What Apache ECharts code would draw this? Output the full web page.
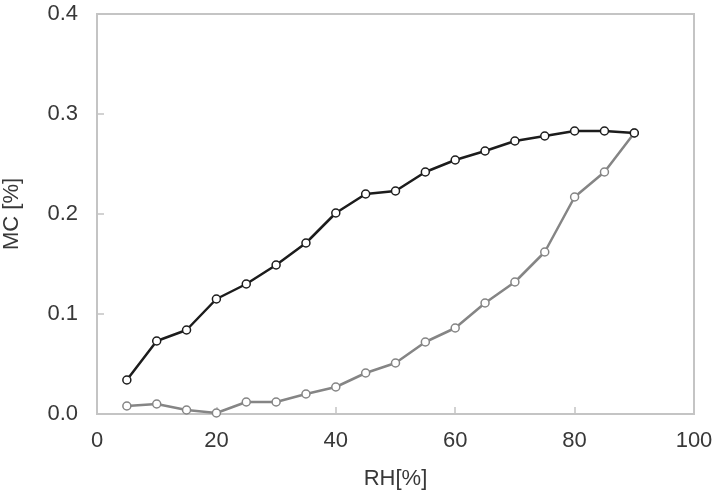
<!DOCTYPE html>
<html>
<head>
<meta charset="utf-8">
<script src="https://cdn.jsdelivr.net/npm/echarts@6/dist/echarts.min.js"></script>
<style>
  html, body { margin: 0; padding: 0; background: #fff; }
  #chart { width: 716px; height: 492px; }
</style>
</head>
<body>
<div id="chart"></div>
<script>
// RH steps (%)
var rhAdsorption = [5, 10, 15, 20, 25, 30, 35, 40, 45, 50, 55, 60, 65, 70, 75, 80, 85, 90];
var mcAdsorption = [0.034, 0.073, 0.084, 0.115, 0.130, 0.149, 0.171, 0.201, 0.220, 0.223,
                    0.242, 0.254, 0.263, 0.273, 0.278, 0.283, 0.283, 0.281];

var rhDesorption = [90, 85, 80, 75, 70, 65, 60, 55, 50, 45, 40, 35, 30, 25, 20, 15, 10, 5];
var mcDesorption = [0.281, 0.242, 0.217, 0.162, 0.132, 0.111, 0.086, 0.072, 0.051, 0.041,
                    0.027, 0.020, 0.012, 0.012, 0.001, 0.004, 0.010, 0.008];

function pairs(xs, ys) {
    var out = [];
    for (var i = 0; i < xs.length; i++) {
        out.push([xs[i], ys[i]]);
    }
    return out;
}

var chart = echarts.init(document.getElementById('chart'));

var labelStyle = { color: '#383838', fontSize: 22, fontFamily: 'Liberation Sans, Arial, sans-serif' };
var axisGray = '#c4c4c4';

chart.setOption({
    animation: false,
    grid: {
        left: 97, right: 22, top: 14, bottom: 78,
        outerBoundsMode: 'none',
        containLabel: false,
        show: true,
        borderColor: axisGray,
        borderWidth: 2
    },
    xAxis: {
        type: 'value',
        min: 0, max: 100, interval: 20,
        name: 'RH[%]',
        nameLocation: 'middle',
        nameGap: 54,
        nameTextStyle: labelStyle,
        axisLine: { show: true, lineStyle: { color: axisGray, width: 2 } },
        axisTick: { show: true, inside: true, length: 7, lineStyle: { color: axisGray, width: 1.5 } },
        axisLabel: Object.assign({ margin: 16 }, labelStyle),
        splitLine: { show: false }
    },
    yAxis: {
        type: 'value',
        min: 0, max: 0.4, interval: 0.1,
        name: 'MC [%]',
        nameLocation: 'middle',
        nameGap: 74,
        nameTextStyle: labelStyle,
        axisLine: { show: true, lineStyle: { color: axisGray, width: 2 } },
        axisTick: { show: true, inside: true, length: 7, lineStyle: { color: axisGray, width: 1.5 } },
        axisLabel: Object.assign({
            margin: 19,
            formatter: function (v) { return v.toFixed(1); }
        }, labelStyle),
        splitLine: { show: false }
    },
    series: [
        {
            name: 'adsorption',
            type: 'line',
            data: pairs(rhAdsorption, mcAdsorption),
            symbol: 'circle',
            symbolSize: 8,
            lineStyle: { color: '#1c1c1c', width: 2.5 },
            itemStyle: { color: '#ffffff', borderColor: '#1c1c1c', borderWidth: 1.5 },
            z: 3
        },
        {
            name: 'desorption',
            type: 'line',
            data: pairs(rhDesorption, mcDesorption),
            symbol: 'circle',
            symbolSize: 8,
            lineStyle: { color: '#858585', width: 2.5 },
            itemStyle: { color: '#ffffff', borderColor: '#858585', borderWidth: 1.5 },
            z: 2
        }
    ]
});
</script>
</body>
</html>
